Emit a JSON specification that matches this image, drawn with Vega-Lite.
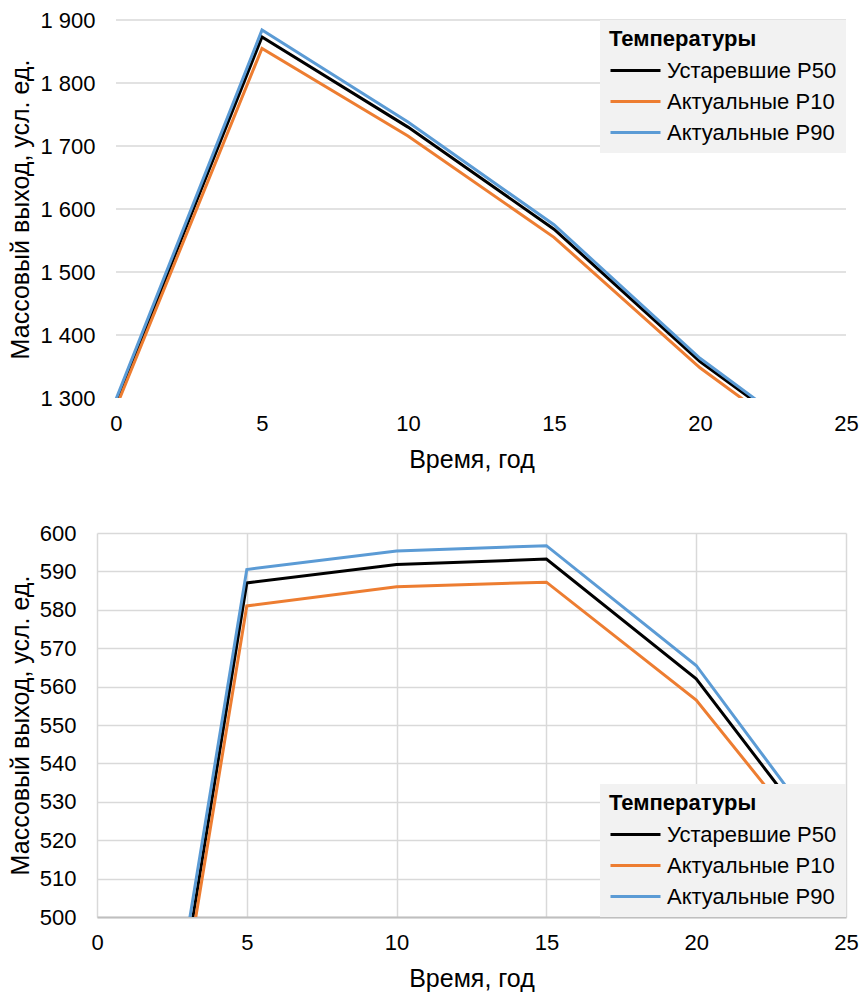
{
  "$schema": "https://vega.github.io/schema/vega-lite/v6.json",
  "background": "white",
  "padding": {"left": 8, "top": 9, "right": 10, "bottom": 5},
  "spacing": 50,
  "config": {
    "font": "Liberation Sans",
    "view": {"stroke": null},
    "axis": {
      "labelFont": "Liberation Sans",
      "titleFont": "Liberation Sans",
      "labelFontSize": 22,
      "titleFontSize": 25,
      "labelColor": "#000000",
      "titleColor": "#000000",
      "titleFontWeight": "normal",
      "ticks": false,
      "gridColor": "#d9d9d9",
      "gridWidth": 1.5
    },
    "axisX": {"domain": true, "domainColor": "#bfbfbf", "domainWidth": 2, "labelPadding": 15, "titlePadding": 13, "labelFlush": false},
    "axisY": {"domain": false, "labelPadding": 21, "titlePadding": 6},
    "legend": {
      "offset": 0,
      "fillColor": "#f2f2f2",
      "padding": 9,
      "titleFont": "Liberation Sans",
      "labelFont": "Liberation Sans",
      "titleFontSize": 22,
      "labelFontSize": 22,
      "titleFontWeight": "bold",
      "titleColor": "#000000",
      "labelColor": "#000000",
      "labelLimit": 400,
      "symbolType": "M-1,0H4",
      "symbolSize": 400,
      "symbolStrokeWidth": 3,
      "labelOffset": 35,
      "rowPadding": 8,
      "titlePadding": 8
    }
  },
  "datasets": {
    "top": [
      {"x": 0, "y": 1292, "series": "Устаревшие P50"},
      {"x": 5, "y": 1873, "series": "Устаревшие P50"},
      {"x": 10, "y": 1730, "series": "Устаревшие P50"},
      {"x": 15, "y": 1568, "series": "Устаревшие P50"},
      {"x": 20, "y": 1358, "series": "Устаревшие P50"},
      {"x": 25, "y": 1189, "series": "Устаревшие P50"},
      {"x": 0, "y": 1285, "series": "Актуальные P10"},
      {"x": 5, "y": 1855, "series": "Актуальные P10"},
      {"x": 10, "y": 1716, "series": "Актуальные P10"},
      {"x": 15, "y": 1555, "series": "Актуальные P10"},
      {"x": 20, "y": 1348, "series": "Актуальные P10"},
      {"x": 25, "y": 1178, "series": "Актуальные P10"},
      {"x": 0, "y": 1298, "series": "Актуальные P90"},
      {"x": 5, "y": 1884, "series": "Актуальные P90"},
      {"x": 10, "y": 1738, "series": "Актуальные P90"},
      {"x": 15, "y": 1575, "series": "Актуальные P90"},
      {"x": 20, "y": 1363, "series": "Актуальные P90"},
      {"x": 25, "y": 1192, "series": "Актуальные P90"}
    ],
    "topgrid": [
      {"y": 1400}, {"y": 1500}, {"y": 1600}, {"y": 1700}, {"y": 1800}, {"y": 1900}
    ],
    "bottom": [
      {"x": 0, "y": 345, "series": "Устаревшие P50"},
      {"x": 5, "y": 587, "series": "Устаревшие P50"},
      {"x": 10, "y": 591.8, "series": "Устаревшие P50"},
      {"x": 15, "y": 593.2, "series": "Устаревшие P50"},
      {"x": 20, "y": 562, "series": "Устаревшие P50"},
      {"x": 25, "y": 511, "series": "Устаревшие P50"},
      {"x": 0, "y": 343, "series": "Актуальные P10"},
      {"x": 5, "y": 581, "series": "Актуальные P10"},
      {"x": 10, "y": 586, "series": "Актуальные P10"},
      {"x": 15, "y": 587.2, "series": "Актуальные P10"},
      {"x": 20, "y": 556.5, "series": "Актуальные P10"},
      {"x": 25, "y": 508, "series": "Актуальные P10"},
      {"x": 0, "y": 352, "series": "Актуальные P90"},
      {"x": 5, "y": 590.5, "series": "Актуальные P90"},
      {"x": 10, "y": 595.3, "series": "Актуальные P90"},
      {"x": 15, "y": 596.7, "series": "Актуальные P90"},
      {"x": 20, "y": 565.5, "series": "Актуальные P90"},
      {"x": 25, "y": 513, "series": "Актуальные P90"}
    ]
  },
  "vconcat": [
    {
      "width": 749,
      "height": 378,
      "layer": [
        {
          "data": {"name": "topgrid"},
          "mark": {"type": "rule", "color": "#d9d9d9", "strokeWidth": 1.5},
          "encoding": {
            "y": {"field": "y", "type": "quantitative"},
            "x": {"datum": 0, "type": "quantitative"},
            "x2": {"datum": 25}
          }
        },
        {
          "data": {"name": "top"},
          "mark": {"type": "line", "clip": true, "strokeWidth": 3},
          "encoding": {
            "x": {"field": "x", "type": "quantitative", "title": "Время, год",
                  "scale": {"domain": [-0.65, 25], "nice": false, "zero": false},
                  "axis": {"values": [0, 5, 10, 15, 20, 25], "domain": false}},
            "y": {"field": "y", "type": "quantitative", "title": "Массовый выход, усл. ед.",
                  "scale": {"domain": [1300, 1900], "nice": false, "zero": false},
                  "axis": {"values": [1300, 1400, 1500, 1600, 1700, 1800, 1900], "grid": false, "labelPadding": 2,
                           "labelExpr": "replace(format(datum.value, ','), ',', ' ')"}},
            "color": {"field": "series", "type": "nominal", "title": "Температуры",
                      "scale": {"domain": ["Устаревшие P50", "Актуальные P10", "Актуальные P90"],
                                "range": ["#000000", "#ED7D31", "#5B9BD5"]},
                      "legend": {"orient": "top-right"}},
            "order": {"field": "x"}
          }
        },
        {
          "mark": {"type": "rule", "color": "#bfbfbf", "strokeWidth": 2},
          "encoding": {
            "y": {"datum": 1300, "type": "quantitative"},
            "x": {"datum": 0, "type": "quantitative"},
            "x2": {"datum": 25}
          }
        }
      ]
    },
    {
      "width": 749,
      "height": 384,
      "data": {"name": "bottom"},
      "mark": {"type": "line", "clip": true, "strokeWidth": 3},
      "encoding": {
        "x": {"field": "x", "type": "quantitative", "title": "Время, год",
              "scale": {"domain": [0, 25], "nice": false},
              "axis": {"values": [0, 5, 10, 15, 20, 25]}},
        "y": {"field": "y", "type": "quantitative", "title": "Массовый выход, усл. ед.",
              "scale": {"domain": [500, 600], "nice": false, "zero": false},
              "axis": {"values": [500, 510, 520, 530, 540, 550, 560, 570, 580, 590, 600]}},
        "color": {"field": "series", "type": "nominal", "title": "Температуры",
                  "scale": {"domain": ["Устаревшие P50", "Актуальные P10", "Актуальные P90"],
                            "range": ["#000000", "#ED7D31", "#5B9BD5"]},
                  "legend": {"orient": "bottom-right"}},
        "order": {"field": "x"}
      }
    }
  ],
  "resolve": {"scale": {"y": "independent", "x": "independent", "color": "independent"}, "legend": {"color": "independent"}}
}
